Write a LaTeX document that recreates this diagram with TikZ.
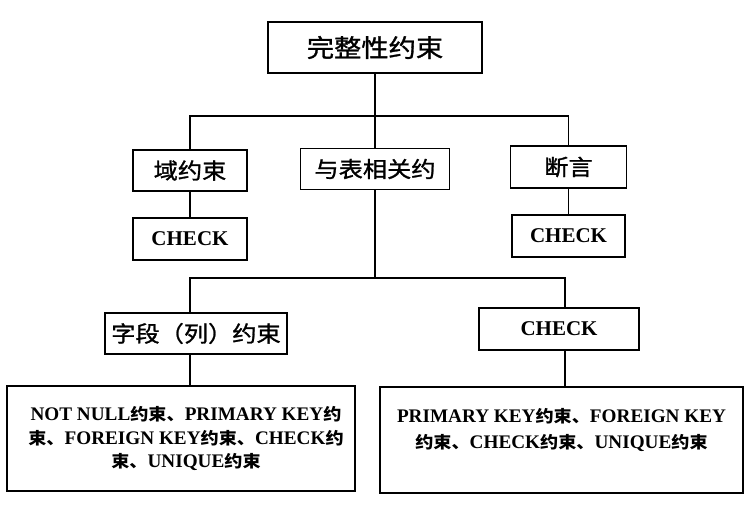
\documentclass[tikz,border=0pt]{standalone}
\usepackage{fontspec}
\setmainfont{Liberation Serif}
\newfontfamily\cjk[FakeStretch=1.1,FakeBold=1.2]{Noto Sans CJK SC}
\newfontfamily\cjkb[FakeStretch=1.1]{Noto Sans CJK SC Bold}
\newcommand\zhs[1]{{\cjkb\fontsize{16.5}{23}\selectfont #1}}
\begin{document}
\begin{tikzpicture}[x=1pt,y=-1pt,
  box/.style={draw, line width=1.3pt, rectangle, inner sep=0pt, align=center, text=black},
  zhbig/.style={font=\cjk\fontsize{24.8}{28}\selectfont},
  zhmid/.style={font=\cjk\fontsize{22}{25}\selectfont},
  latmid/.style={font=\bfseries\fontsize{21}{25}\selectfont},
  txt/.style={align=center, inner sep=0pt, text=black},
  link/.style={line width=1.3pt}]
\useasboundingbox[fill=white] (0,0) rectangle (755,508);

\node[box, zhbig, minimum width=214pt, minimum height=51pt] (top) at (375,47.5) {完整性约束};
\node[box, zhmid, minimum width=114pt, minimum height=41pt] (dom) at (190,170.5) {域约束};
\node[box, zhmid, minimum width=149pt, minimum height=41pt] (tab) at (375,169) {与表相关约};
\node[box, zhmid, minimum width=116pt, minimum height=42pt] (ast) at (568.5,167) {断言};
\node[box, latmid, minimum width=114pt, minimum height=42pt] (chk1) at (190,239) {CHECK};
\node[box, latmid, minimum width=113pt, minimum height=42pt] (chk2) at (568.5,236) {CHECK};
\node[box, zhmid, minimum width=182pt, minimum height=41pt] (fld) at (196,333.5) {字段（列）约束};
\node[box, latmid, minimum width=160pt, minimum height=42pt] (chk3) at (559,329) {CHECK};
\node[box, minimum width=348pt, minimum height=105pt] (bl) at (181,438.5) {};
\node[txt, font=\bfseries\fontsize{19.2}{23.5}\selectfont] (blt) at (186,438.5)
  {NOT NULL\zhs{约束、}PRIMARY KEY\zhs{约}\\ \zhs{束、}FOREIGN KEY\zhs{约束、}CHECK\zhs{约}\\ \zhs{束、}UNIQUE\zhs{约束}};
\node[box, minimum width=363pt, minimum height=106pt] (br) at (561.5,440) {};
\node[txt, font=\bfseries\fontsize{19.2}{26}\selectfont] (brt) at (561.5,430)
  {PRIMARY KEY\zhs{约束、}FOREIGN KEY\\ \zhs{约束、}CHECK\zhs{约束、}UNIQUE\zhs{约束}};

\coordinate (j0) at (375,116);
\coordinate (j1) at (190,278);
\coordinate (j2) at (565,278);

\draw[link] (top) -- (tab);
\draw[link] (dom.north) -- (dom.north |- j0) -- (ast.north |- j0) -- (ast.north);
\draw[link] (dom) -- (chk1);
\draw[link] (ast) -- (chk2);
\draw[link] (tab.south) -- (tab.south |- j1);
\draw[link] (fld.north -| j1) -- (j1) -- (j2) -- (chk3.north -| j2);
\draw[link] (fld.south -| j1) -- (bl.north -| j1);
\draw[link] (chk3.south -| j2) -- (br.north -| j2);
\end{tikzpicture}
\end{document}
